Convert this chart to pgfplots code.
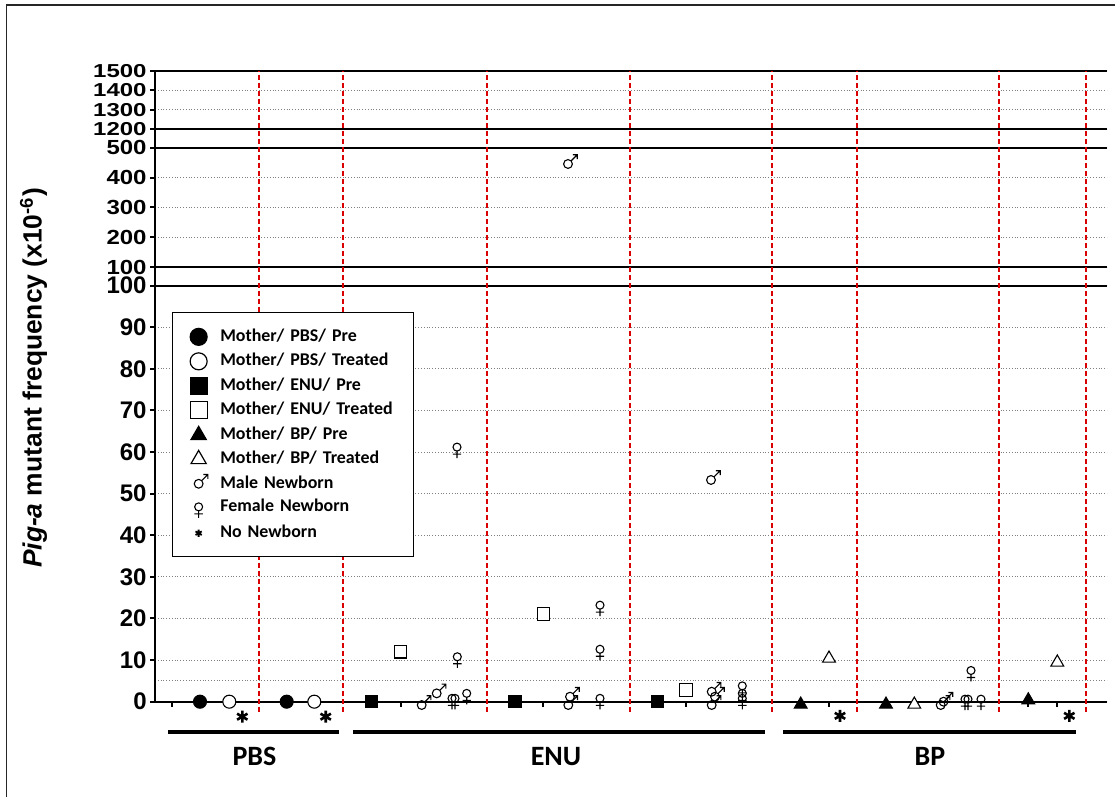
\documentclass[border=0pt]{standalone}
\usepackage{fontspec}
\setmainfont{Liberation Sans}
\newfontfamily\carlito{Carlito}
\usepackage{graphicx}
\usepackage{pgfplots}
\pgfplotsset{compat=1.18}

\pgfdeclareplotmark{female}{%
  \pgfpathcircle{\pgfpointorigin}{\pgfplotmarksize}%
  \pgfpathmoveto{\pgfpoint{0pt}{-\pgfplotmarksize}}%
  \pgfpathlineto{\pgfpoint{0pt}{-2.75\pgfplotmarksize}}%
  \pgfpathmoveto{\pgfpoint{-1.05\pgfplotmarksize}{-1.75\pgfplotmarksize}}%
  \pgfpathlineto{\pgfpoint{1.05\pgfplotmarksize}{-1.75\pgfplotmarksize}}%
  \pgfusepathqstroke}
\pgfdeclareplotmark{male}{%
  \pgfpathcircle{\pgfpointorigin}{\pgfplotmarksize}%
  \pgfpathmoveto{\pgfpoint{0.707\pgfplotmarksize}{0.707\pgfplotmarksize}}%
  \pgfpathlineto{\pgfpoint{2.1\pgfplotmarksize}{2.1\pgfplotmarksize}}%
  \pgfpathmoveto{\pgfpoint{1.1\pgfplotmarksize}{2.1\pgfplotmarksize}}%
  \pgfpathlineto{\pgfpoint{2.1\pgfplotmarksize}{2.1\pgfplotmarksize}}%
  \pgfpathlineto{\pgfpoint{2.1\pgfplotmarksize}{1.1\pgfplotmarksize}}%
  \pgfusepathqstroke}

\pgfplotsset{
  base/.style={
    scale only axis, width=476pt, anchor=south west,
    xmin=155, xmax=1107,
    axis x line*=bottom, axis y line*=left,
    axis line style={line width=1pt, black},
    tick style={line width=1pt, black},
    major tick length=2.5pt, tick align=outside,
    ymajorgrids, major grid style={gray, densely dotted, line width=0.5pt},
    yticklabel style={font=\bfseries\fontsize{12}{13}\selectfont, inner xsep=1.5pt},
    /pgf/number format/assume math mode=true,
    /pgf/number format/1000 sep={},
    clip=false,
  },
}

\begin{document}
\begin{tikzpicture}
\useasboundingbox (0pt,0pt) rectangle (557.5pt,398.5pt);
\draw[line width=0.75pt, black!85] (3.35pt,-5pt) -- (3.35pt,396pt) -- (565pt,396pt);

\node[rotate=90, anchor=base, font=\bfseries\fontsize{13.2}{15}\selectfont] at (20.85pt,209.5pt)
  {\textit{Pig-a} mutant frequency (x10\textsuperscript{-6})};

% top panel
\begin{axis}[base, at={(77.5pt,333.85pt)}, height=29.3pt,
  ymin=1200, ymax=1500, ytick={1200,1300,1400,1500},
  yticklabels={\scalebox{1}[0.78]{1200},\scalebox{1}[0.78]{1300},\scalebox{1}[0.78]{1400},\scalebox{1}[0.78]{1500}},
  xtick=\empty]
\draw[line width=1pt] (axis cs:155,1500) -- (axis cs:1107,1500);
\end{axis}

% middle panel
\begin{axis}[base, at={(77.5pt,264.85pt)}, height=59.8pt,
  ymin=100, ymax=500, ytick={100,200,300,400,500},
  yticklabels={\scalebox{1}[0.85]{100},\scalebox{1}[0.85]{200},\scalebox{1}[0.85]{300},\scalebox{1}[0.85]{400},\scalebox{1}[0.85]{500}},
  xtick=\empty]
\draw[line width=1pt] (axis cs:155,500) -- (axis cs:1107,500);
\addplot[only marks, mark=male, mark size=2.2pt, mark options={line width=0.55pt, black}] coordinates {(568,445.5)};
\end{axis}

% bottom panel
\begin{axis}[base, at={(77.5pt,47.65pt)}, height=208pt,
  ymin=0, ymax=100, ytick={0,10,...,100},
  extra y ticks={5}, extra y tick labels={}, extra y tick style={major tick length=0pt},
  xtick={172,200,229.3,286.7,314.3,371.7,400.7,515,543.3,657.3,686,800.7,829,886,914.3,1028.3,1057.3},
  xticklabels={},
  legend cell align=left,
  legend image code/.code={\draw[#1] plot coordinates {(0pt,0pt)};},
  legend style={at={(rel axis cs:0.01786,0.9368)}, anchor=north west,
    draw=black, line width=0.75pt, fill=white,
    inner xsep=8.7pt, inner ysep=7.8pt, row sep=3.75pt,
    font=\carlito\bfseries\fontsize{8.95}{10}\selectfont,
    nodes={inner sep=0pt, text height=6.2pt, text depth=1.6pt, text width=88pt},
    /tikz/every odd column/.append style={column sep=6.2pt}},
]
\draw[line width=1pt] (axis cs:155,100) -- (axis cs:1107,100);
\draw[line width=1pt] (axis cs:155,0) -- (axis cs:155,151.7);
\foreach \xx in {259,343,487,630,772,857,999,1086}{
  \edef\tmp{\noexpand\draw[red!85!black, line width=0.8pt, dash pattern=on 2.5pt off 1.5pt] (axis cs:\xx,-2.5) -- (axis cs:\xx,151.7);}\tmp
}
% group bars and labels
\draw[line width=2pt] (axis cs:168,-7.28) -- (axis cs:339,-7.28);
\draw[line width=2pt] (axis cs:353,-7.28) -- (axis cs:765,-7.28);
\draw[line width=2pt] (axis cs:783,-7.28) -- (axis cs:1076,-7.28);
\node[anchor=base, font=\carlito\bfseries\fontsize{14}{16}\selectfont] at (axis cs:254.5,-15.45) {PBS};
\node[anchor=base, font=\carlito\bfseries\fontsize{14}{16}\selectfont] at (axis cs:556,-15.45) {ENU};
\node[anchor=base, font=\carlito\bfseries\fontsize{14}{16}\selectfont] at (axis cs:930,-15.45) {BP};

% legend images
\addlegendimage{only marks, mark=*, mark size=4.25pt, mark options={draw=black, fill=black, line width=0.6pt}}
\addlegendentry{Mother/ PBS/ Pre}
\addlegendimage{only marks, mark=*, mark size=4.25pt, mark options={draw=black, fill=white, line width=0.6pt}}
\addlegendentry{Mother/ PBS/ Treated}
\addlegendimage{only marks, mark=square*, mark size=4.25pt, mark options={draw=black, fill=black, line width=0.6pt}}
\addlegendentry{Mother/ ENU/ Pre}
\addlegendimage{only marks, mark=square*, mark size=4.25pt, mark options={draw=black, fill=white, line width=0.6pt}}
\addlegendentry{Mother/ ENU/ Treated}
\addlegendimage{only marks, mark=triangle*, mark size=4.4pt, mark options={draw=black, fill=black, line width=0.6pt}}
\addlegendentry{Mother/ BP/ Pre}
\addlegendimage{only marks, mark=triangle*, mark size=4.4pt, mark options={draw=black, fill=white, line width=0.6pt}}
\addlegendentry{Mother/ BP/ Treated}
\addlegendimage{only marks, mark=male, mark size=2.2pt, mark options={draw=black, line width=0.55pt}}
\addlegendentry{Male Newborn}
\addlegendimage{only marks, mark=female, mark size=2pt, mark options={draw=black, line width=0.55pt}}
\addlegendentry{Female Newborn}
\addlegendimage{only marks, mark=asterisk, mark size=1.8pt, mark options={draw=black, line width=0.9pt}}
\addlegendentry{No Newborn}

% data
\addplot[forget plot, only marks, mark=*, mark size=3.25pt, mark options={draw=black, fill=black, line width=0.55pt}]
  coordinates {(200,0) (286.7,0)};
\addplot[forget plot, only marks, mark=*, mark size=3.25pt, mark options={draw=black, fill=white, line width=0.55pt}]
  coordinates {(229.3,0) (314.3,0)};
\addplot[forget plot, only marks, mark=square*, mark size=3.1pt, mark options={draw=black, fill=black, line width=0.55pt}]
  coordinates {(371.7,0) (515,0) (657.3,0)};
\addplot[forget plot, only marks, mark=square*, mark size=3.1pt, mark options={draw=black, fill=white, line width=0.55pt}]
  coordinates {(400.7,12.0) (543.3,21.1) (686,2.8)};
\addplot[forget plot, only marks, mark=triangle*, mark size=3.7pt, mark options={draw=black, fill=black, line width=0.55pt}]
  coordinates {(800.7,-0.67) (886,-0.67) (1028.3,0.36)};
\addplot[forget plot, only marks, mark=triangle*, mark size=3.7pt, mark options={draw=black, fill=white, line width=0.55pt}]
  coordinates {(829,10.4) (914.3,-0.67) (1057.3,9.45)};
\addplot[forget plot, only marks, mark=male, mark size=2.2pt, mark options={draw=black, line width=0.55pt}]
  coordinates {(421.7,-0.8) (436.7,2.0) (568.3,-0.8) (570,1.2) (711.7,-0.8) (715,1.2) (711.7,2.4) (711,53.3) (940.7,-0.8) (943.5,0)};
\addplot[forget plot, only marks, mark=female, mark size=2pt, mark options={draw=black, line width=0.55pt}]
  coordinates {(452,0.8) (455,0.8) (466.7,2.0) (457.3,10.8) (457,61.2) (600,0.8) (600,12.6) (600,23.2) (742.3,0.8) (742.3,2.0) (742.3,3.8) (965,0.6) (968,0.6) (981,0.6) (971,7.5)};
\addplot[forget plot, only marks, mark=asterisk, mark size=3pt, mark options={draw=black, line width=1.3pt}]
  coordinates {(242.3,-3.6) (325.7,-3.6) (840,-3.4) (1069.3,-3.4)};
\end{axis}
\end{tikzpicture}
\end{document}
